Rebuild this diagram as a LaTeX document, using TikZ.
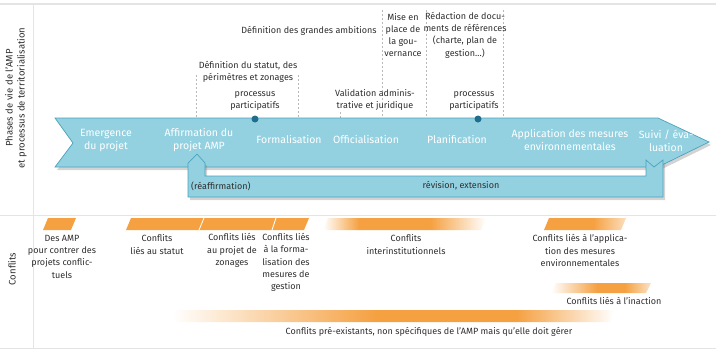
\documentclass[tikz,border=0pt]{standalone}
\usepackage{fontspec}
\setmainfont{Fira Sans}
\usetikzlibrary{shadows}
\definecolor{arrowblue}{HTML}{93D1E1}
\definecolor{arrowedge}{HTML}{4AA3BD}
\definecolor{dotblue}{HTML}{1F6E8E}
\definecolor{conflit}{HTML}{F5A142}
\definecolor{txt}{HTML}{2E2E2E}
\definecolor{rulegray}{HTML}{E4E4E4}
% fades for the conflict bars (path covers 25bp--75bp)
\pgfdeclarehorizontalshading{interinst}{100bp}{color(0bp)=(white); color(25bp)=(white); color(36bp)=(conflit); color(58bp)=(conflit); color(75bp)=(white); color(100bp)=(white)}
\pgfdeclarehorizontalshading{applic}{100bp}{color(0bp)=(conflit); color(25bp)=(conflit); color(55bp)=(conflit); color(75bp)=(conflit!35); color(100bp)=(conflit!35)}
\pgfdeclarehorizontalshading{inaction}{100bp}{color(0bp)=(white); color(25bp)=(white); color(48bp)=(conflit); color(62bp)=(conflit); color(75bp)=(conflit!30); color(100bp)=(conflit!30)}
\pgfdeclarehorizontalshading{preexist}{100bp}{color(0bp)=(white); color(25bp)=(white); color(48bp)=(conflit); color(64bp)=(conflit); color(75bp)=(white); color(100bp)=(white)}

\begin{document}
\begin{tikzpicture}[x=1pt, y=-1pt,
    lbl/.style={font=\fontsize{9}{12.3}\selectfont, text=txt, align=center, inner sep=0pt},
    phase/.style={font=\fontsize{10.5}{13}\selectfont, text=white, align=center, inner sep=0pt},
    guide/.style={draw=gray!55, dash pattern=on 2pt off 2pt, line width=0.5pt},
    rulel/.style={draw=rulegray, line width=1pt},
    bar/.style={fill=conflit, draw=none},
    dotp/.style={circle, fill=dotblue, inner sep=0pt, minimum size=7pt}]
  \useasboundingbox (0,0) rectangle (716,349);
  \draw[rulel, line width=2.5pt] (0,4) -- (716,4);
  \draw[rulel] (0,215) -- (716,215);
  \draw[rulel] (0,348) -- (716,348);
  \draw[rulel] (33,5) -- (33,349);

  \node[lbl, font=\fontsize{9.5}{12}\selectfont, rotate=90] (phases) at (16,98)
    {Phases de vie de l'AMP\\et processus de territorialisation};
  \node[lbl, font=\fontsize{9.5}{12}\selectfont, rotate=90] (conflits) at (12,269) {Conflits};

  % guide lines
  \draw[guide] (196,75) -- (196,130);
  \draw[guide] (298,75) -- (298,130);
  \draw[guide] (340,112) -- (340,128);
  \draw[guide] (382,10) -- (382,128);
  \draw[guide] (426,10) -- (426,128);
  \draw[guide] (503,10) -- (503,128);

  % main arrow
  \filldraw[fill=arrowblue, draw=arrowedge, line width=0.7pt,
    drop shadow={shadow xshift=2pt, shadow yshift=-3pt, opacity=0.35}]
    (55,118) -- (658,118) -- (709,142) -- (658,167) -- (55,167) -- (73,143) -- cycle;
  % return arrow
  \filldraw[fill=arrowblue, draw=arrowedge, line width=0.7pt,
    drop shadow={shadow xshift=2pt, shadow yshift=-3pt, opacity=0.35}]
    (663,160) -- (663,197) -- (188,197) -- (188,163) -- (197,154) -- (205,163)
    -- (205,176) -- (646,176) -- (646,160) -- (654,167) -- cycle;

  \node[dotp] (dotA) at (255,119) {};
  \node[dotp] (dotB) at (478,119) {};

  \node[phase] (emerg) at (106,140) {Emergence\\du projet};
  \node[phase] (affirm) at (199,140) {Affirmation du\\projet AMP};
  \node[phase] (formal) at (289,139) {Formalisation};
  \node[phase] (offic) at (366,139) {Officialisation};
  \node[phase] (planif) at (457,139) {Planification};
  \node[phase] (applic) at (570,140) {Application des mesures\\environnementales};
  \node[phase] (suivi) at (666,141) {Suivi / éva-\\luation};

  \node[lbl, anchor=west] (reaff) at (191,186) {(réaffirmation)};
  \node[lbl] (revis) at (461,186) {révision, extension};

  \node[lbl] (ambit) at (309,31) {Définition des grandes ambitions};
  \node[lbl] (statut) at (248,72) {Définition du statut, des\\périmètres et zonages};
  \node[lbl] (partA) at (255,101) {processus\\participatifs};
  \node[lbl] (valid) at (375,100) {Validation adminis-\\trative et juridique};
  \node[lbl] (gouv) at (403,35) {Mise en\\place de\\la gou-\\vernance};
  \node[lbl] (redac) at (465,35) {Rédaction de docu-\\ments de références\\(charte, plan de\\gestion…)};
  \node[lbl] (partB) at (474,101) {processus\\participatifs};

  % conflict bars
  \fill[bar] (43,230) -- (48,218) -- (76,218) -- (71,230) -- cycle;
  \fill[bar] (126,230) -- (131,218) -- (309,218) -- (304,230) -- cycle;
  \draw[white, line width=0.8pt] (199,230) -- (204,218);
  \draw[white, line width=0.8pt] (272,230) -- (276,218);
  \shade[shading=interinst] (323,230) -- (328,218) -- (486,218) -- (481,230) -- cycle;
  \shade[shading=applic] (544,230) -- (549,218) -- (626,218) -- (621,230) -- cycle;
  \shade[shading=inaction] (551,293) -- (556,283) -- (651,283) -- (646,293) -- cycle;
  \shade[shading=preexist] (172,322) -- (176,310) -- (614,310) -- (610,322) -- cycle;

  \node[lbl] (c1) at (62,256.5) {Des AMP\\pour contrer des\\projets conflic-\\tuels};
  \node[lbl] (c2) at (157,244.5) {Conflits\\liés au statut};
  \node[lbl] (c3) at (232,250.5) {Conflits liés\\au projet de\\zonages};
  \node[lbl] (c4) at (286,262.5) {Conflits liés\\à la forma-\\lisation des\\mesures de\\gestion};
  \node[lbl] (c5) at (406,244.5) {Conflits\\interinstitutionnels};
  \node[lbl] (c6) at (580,250.5) {Conflits liés à l'applica-\\tion des mesures\\environnementales};
  \node[lbl] (c7) at (614,301) {Conflits liés à l'inaction};
  \node[lbl] (c8) at (429,332) {Conflits pré-existants, non spécifiques de l'AMP mais qu'elle doit gérer};
\end{tikzpicture}
\end{document}
